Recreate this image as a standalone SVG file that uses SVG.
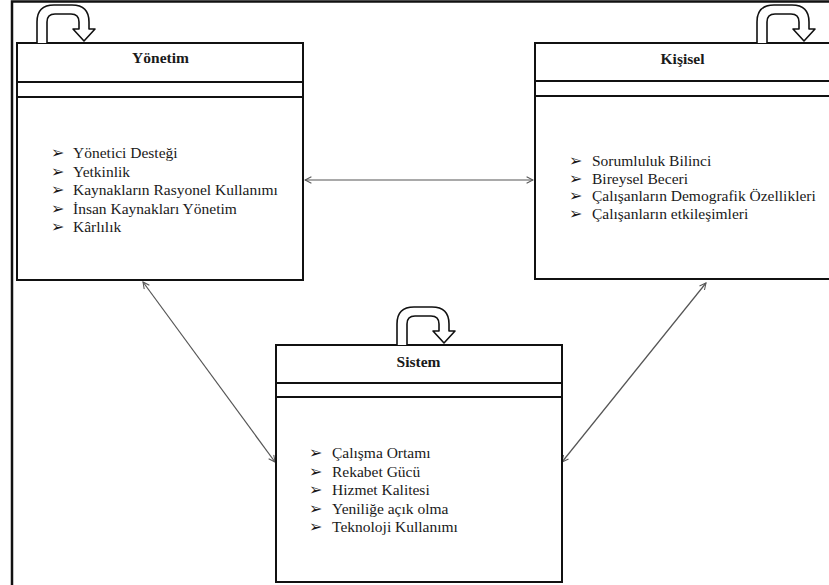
<svg xmlns="http://www.w3.org/2000/svg" width="829" height="585" viewBox="0 0 829 585">
<defs>
<style>
.box{fill:#fff;stroke:#111;stroke-width:2}
.sep{stroke:#111;stroke-width:2}
.loop{fill:#fff;stroke:#111;stroke-width:1.6;stroke-linejoin:round}
.title{font-family:'Liberation Serif',serif;font-weight:bold;font-size:15.5px;fill:#1a1a1a;text-anchor:middle}
.item{font-family:'Liberation Serif',serif;font-size:15.5px;fill:#1a1a1a}
.bul{font-family:'DejaVu Sans',sans-serif;font-size:16px;fill:#1a1a1a}
.conn{stroke:#555;stroke-width:1.2;fill:none;marker-start:url(#ah);marker-end:url(#ah)}
</style>
<marker id="ah" viewBox="0 0 10 10" refX="9" refY="5" markerWidth="8" markerHeight="8" markerUnits="userSpaceOnUse" orient="auto-start-reverse">
<path d="M1,1 L9,5 L1,9" fill="none" stroke="#555" stroke-width="1.3"/>
</marker>
<path id="uturn" class="loop" d="M37,43 V22 Q37,5 54,5 H72 Q89,5 89,22 V29 H95 L84,41 L73,29 H79 V22 Q79,14 71,14 H55 Q47,14 47,22 V43"/>
</defs>
<rect width="829" height="585" fill="#fff"/>
<path d="M12,585 V1.5 H829" fill="none" stroke="#111" stroke-width="2.5"/>

<g id="connectors">
<line class="conn" x1="305" y1="180" x2="533" y2="180"/>
<line class="conn" x1="143" y1="282" x2="275" y2="462"/>
<line class="conn" x1="706" y1="283" x2="562" y2="462"/>
</g>

<g id="yonetim">
<rect class="box" x="17" y="43" width="286" height="237"/>
<line class="sep" x1="17" y1="82" x2="303" y2="82"/>
<line class="sep" x1="17" y1="97" x2="303" y2="97"/>
<use href="#uturn"/>
<text class="title" x="160.5" y="63">Yönetim</text>
<text class="bul" x="51" y="158">➢</text><text class="item" x="73" y="158">Yönetici Desteği</text>
<text class="bul" x="51" y="176.5">➢</text><text class="item" x="73" y="176.5">Yetkinlik</text>
<text class="bul" x="51" y="195">➢</text><text class="item" x="73" y="195">Kaynakların Rasyonel Kullanımı</text>
<text class="bul" x="51" y="213.5">➢</text><text class="item" x="73" y="213.5">İnsan Kaynakları Yönetim</text>
<text class="bul" x="51" y="232">➢</text><text class="item" x="73" y="232">Kârlılık</text>
</g>

<g id="kisisel">
<rect class="box" x="535" y="43" width="300" height="236"/>
<line class="sep" x1="535" y1="81" x2="835" y2="81"/>
<line class="sep" x1="535" y1="96" x2="835" y2="96"/>
<use href="#uturn" transform="translate(720,0)"/>
<text class="title" x="682.5" y="64">Kişisel</text>
<text class="bul" x="569" y="166">➢</text><text class="item" x="592" y="166">Sorumluluk Bilinci</text>
<text class="bul" x="569" y="183.5">➢</text><text class="item" x="592" y="183.5">Bireysel Beceri</text>
<text class="bul" x="569" y="201">➢</text><text class="item" x="592" y="201">Çalışanların Demografik Özellikleri</text>
<text class="bul" x="569" y="218.5">➢</text><text class="item" x="592" y="218.5">Çalışanların etkileşimleri</text>
</g>

<g id="sistem">
<rect class="box" x="276" y="345" width="286" height="237"/>
<line class="sep" x1="276" y1="383" x2="562" y2="383"/>
<line class="sep" x1="276" y1="397" x2="562" y2="397"/>
<use href="#uturn" transform="translate(360,302)"/>
<text class="title" x="418.5" y="367">Sistem</text>
<text class="bul" x="309" y="458">➢</text><text class="item" x="332" y="458">Çalışma Ortamı</text>
<text class="bul" x="309" y="476.5">➢</text><text class="item" x="332" y="476.5">Rekabet Gücü</text>
<text class="bul" x="309" y="495">➢</text><text class="item" x="332" y="495">Hizmet Kalitesi</text>
<text class="bul" x="309" y="513.5">➢</text><text class="item" x="332" y="513.5">Yeniliğe açık olma</text>
<text class="bul" x="309" y="532">➢</text><text class="item" x="332" y="532">Teknoloji Kullanımı</text>
</g>
</svg>
